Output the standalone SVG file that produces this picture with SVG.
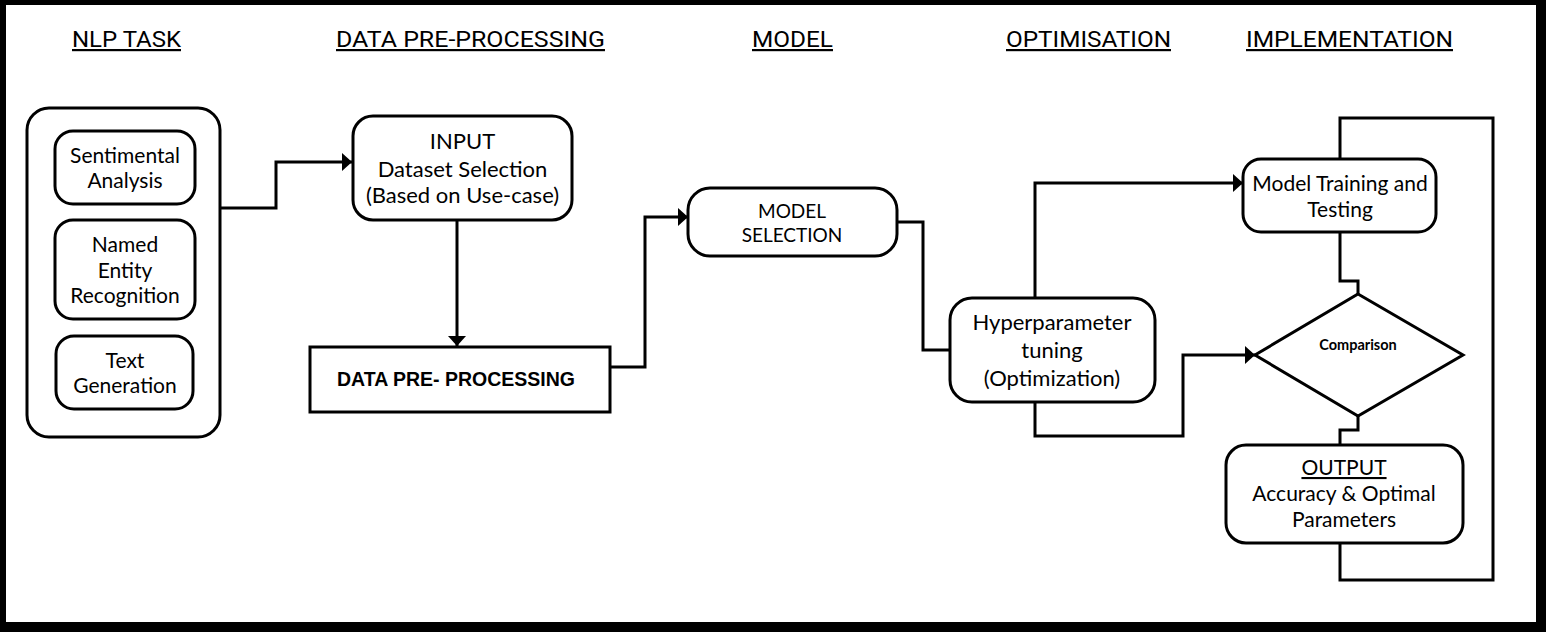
<svg xmlns="http://www.w3.org/2000/svg" width="1546" height="632" viewBox="0 0 1546 632">
  <style>
    .box { fill: #fff; stroke: #000; stroke-width: 3; }
    .conn { fill: none; stroke: #000; stroke-width: 3; stroke-linejoin: miter; }
    .t { font-family: Lato, "Open Sans", "Liberation Sans", sans-serif; fill: #000; text-anchor: middle; }
    .h { font-family: Roboto, "Liberation Sans", sans-serif; font-size: 22px; fill: #000; text-anchor: middle; text-decoration: underline; }
    .b { font-family: "Liberation Sans", Arial, sans-serif; font-weight: bold; fill: #000; text-anchor: middle; }
  </style>
  <defs>
    <marker id="arrow" markerUnits="userSpaceOnUse" markerWidth="11" markerHeight="18" refX="10" refY="9" orient="auto">
      <path d="M0,0 L10,9 L0,18 z" fill="#000"/>
    </marker>
  </defs>

  <!-- frame -->
  <rect x="0" y="0" width="1546" height="632" fill="#000"/>
  <rect x="6" y="5" width="1530" height="617" fill="#fff"/>

  <!-- headers -->
  <g id="headers">
    <text class="h" x="126.5" y="47" textLength="109" lengthAdjust="spacingAndGlyphs">NLP TASK</text>
    <text class="h" x="470.5" y="47" textLength="269" lengthAdjust="spacingAndGlyphs">DATA PRE-PROCESSING</text>
    <text class="h" x="792.5" y="47" textLength="81" lengthAdjust="spacingAndGlyphs">MODEL</text>
    <text class="h" x="1088.5" y="47" textLength="165" lengthAdjust="spacingAndGlyphs">OPTIMISATION</text>
    <text class="h" x="1349.5" y="47" textLength="207" lengthAdjust="spacingAndGlyphs">IMPLEMENTATION</text>
  </g>

  <!-- connectors -->
  <g id="connectors">
    <path class="conn" d="M220,208 H276 V162 H352" marker-end="url(#arrow)"/>
    <path class="conn" d="M457,220 V346" marker-end="url(#arrow)"/>
    <path class="conn" d="M610,367 H645 V217 H688" marker-end="url(#arrow)"/>
    <path class="conn" d="M897,222 H923 V350 H950"/>
    <path class="conn" d="M1035,298 V183 H1243" marker-end="url(#arrow)"/>
    <path class="conn" d="M1035,402 V436 H1183 V355 H1255" marker-end="url(#arrow)"/>
    <path class="conn" d="M1340,232 V281 H1358 V294"/>
    <path class="conn" d="M1358,416 V430 H1340 V445"/>
    <path class="conn" d="M1340,159 V118 H1493 V580 H1340 V543"/>
  </g>

  <!-- NLP task container -->
  <g id="nlp-task">
    <rect class="box" x="27" y="108" width="193" height="329" rx="22"/>
  </g>
  <g id="sentimental">
    <rect class="box" x="55" y="131" width="140" height="73" rx="18"/>
    <text class="t" x="125" y="163" font-size="21">Sentimental</text>
    <text class="t" x="125" y="188" font-size="21">Analysis</text>
  </g>
  <g id="ner">
    <rect class="box" x="55" y="220" width="140" height="99" rx="18"/>
    <text class="t" x="125" y="252" font-size="21">Named</text>
    <text class="t" x="125" y="278" font-size="21">Entity</text>
    <text class="t" x="125" y="303" font-size="21">Recognition</text>
  </g>
  <g id="textgen">
    <rect class="box" x="56" y="336" width="137" height="73" rx="18"/>
    <text class="t" x="125" y="368" font-size="21">Text</text>
    <text class="t" x="125" y="393" font-size="21">Generation</text>
  </g>

  <g id="input">
    <rect class="box" x="353" y="116" width="219" height="104" rx="20"/>
    <text class="t" x="462.5" y="149" font-size="22">INPUT</text>
    <text class="t" x="462.5" y="177" font-size="22">Dataset Selection</text>
    <text class="t" x="462.5" y="203" font-size="22">(Based on Use-case)</text>
  </g>

  <g id="data-preprocessing">
    <rect class="box" x="310" y="347" width="300" height="65"/>
    <text class="b" x="456" y="386" font-size="19.5">DATA PRE- PROCESSING</text>
  </g>

  <g id="model-selection">
    <rect class="box" x="688" y="188" width="209" height="68" rx="22"/>
    <text class="t" x="792" y="218" font-size="19">MODEL</text>
    <text class="t" x="792" y="242" font-size="19">SELECTION</text>
  </g>

  <g id="hyperparameter">
    <rect class="box" x="950" y="298" width="205" height="104" rx="22"/>
    <text class="t" x="1052" y="330" font-size="22">Hyperparameter</text>
    <text class="t" x="1052" y="358" font-size="22">tuning</text>
    <text class="t" x="1052" y="386" font-size="22">(Optimization)</text>
  </g>

  <g id="model-training">
    <rect class="box" x="1243" y="159" width="193" height="73" rx="18"/>
    <text class="t" x="1340" y="191" font-size="21">Model Training and</text>
    <text class="t" x="1340" y="217" font-size="21">Testing</text>
  </g>

  <g id="comparison">
    <polygon class="box" points="1358,294 1463,355 1358,416 1255,355"/>
    <text class="t" x="1358" y="350" font-size="14.5" font-weight="bold">Comparison</text>
  </g>

  <g id="output">
    <rect class="box" x="1226" y="445" width="237" height="98" rx="20"/>
    <text class="t" x="1344" y="475" font-size="21" text-decoration="underline">OUTPUT</text>
    <text class="t" x="1344" y="501" font-size="21">Accuracy &amp; Optimal</text>
    <text class="t" x="1344" y="527" font-size="21">Parameters</text>
  </g>
</svg>
